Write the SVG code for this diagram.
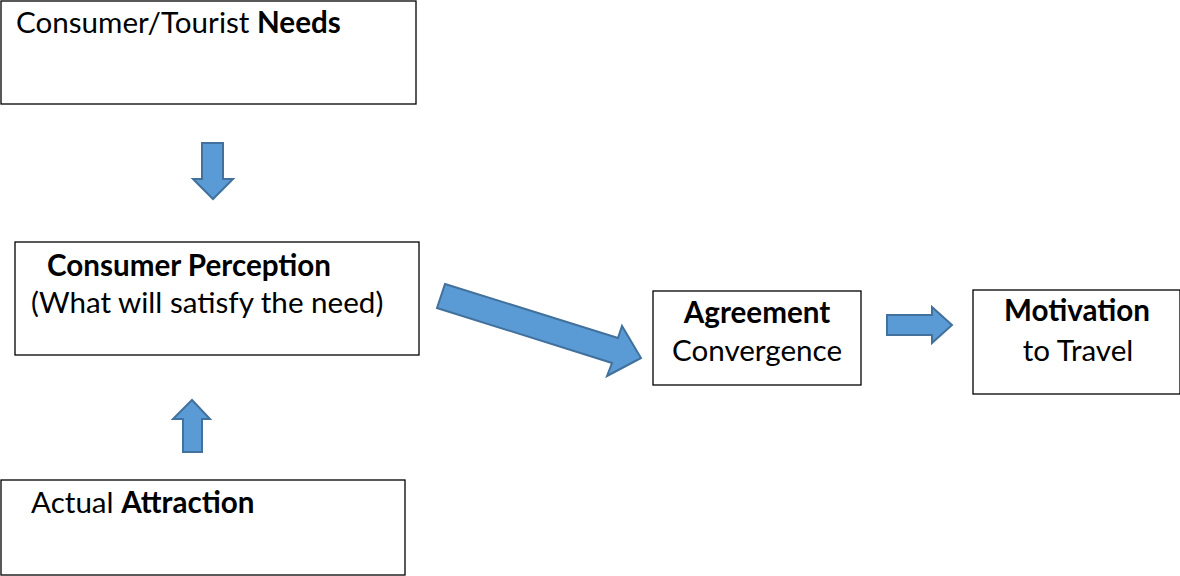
<svg xmlns="http://www.w3.org/2000/svg" width="1180" height="576" viewBox="0 0 1180 576">
<style>
.box{fill:#fff;stroke:#000;stroke-width:1.3}
.t{font-family:Lato,"Open Sans","Liberation Sans",sans-serif;font-size:29.6px;fill:#000}
.b{font-weight:bold}
.arr{fill:#5B9BD5;stroke:#41719C;stroke-width:2;stroke-linejoin:miter}
</style>
<rect width="1180" height="576" fill="#fff"/>
<g id="needs">
<rect class="box" x="1" y="1" width="415" height="103"/>
<text class="t" x="16" y="33">Consumer/Tourist <tspan class="b">Needs</tspan></text>
</g>
<g id="perception">
<rect class="box" x="15" y="242" width="404" height="113"/>
<text class="t b" x="47" y="276">Consumer Perception</text>
<text class="t" x="31" y="313">(What will satisfy the need)</text>
</g>
<g id="agreement">
<rect class="box" x="653" y="291" width="208" height="94"/>
<text class="t b" x="757" y="323" text-anchor="middle">Agreement</text>
<text class="t" x="757" y="361" text-anchor="middle">Convergence</text>
</g>
<g id="motivation">
<rect class="box" x="973" y="290" width="207" height="104"/>
<text class="t b" x="1077" y="321" text-anchor="middle">Motivation</text>
<text class="t" x="1078" y="361" text-anchor="middle">to Travel</text>
</g>
<g id="attraction">
<rect class="box" x="1" y="480" width="404" height="95"/>
<text class="t" x="31" y="513">Actual <tspan class="b">Attraction</tspan></text>
</g>
<g id="connectors">
<polygon class="arr" points="202,143 223,143 223,179 233,179 213,199 193,179 202,179"/>
<polygon class="arr" points="192,400 210,419 202,419 202,452 183,452 183,419 173,419"/>
<polygon class="arr" points="445,284 618,338 622,326 641,358 607,376 612,363 437,308"/>
<polygon class="arr" points="887,315 932,315 932,307 952,325 932,343 932,335 887,335"/>
</g>
</svg>
